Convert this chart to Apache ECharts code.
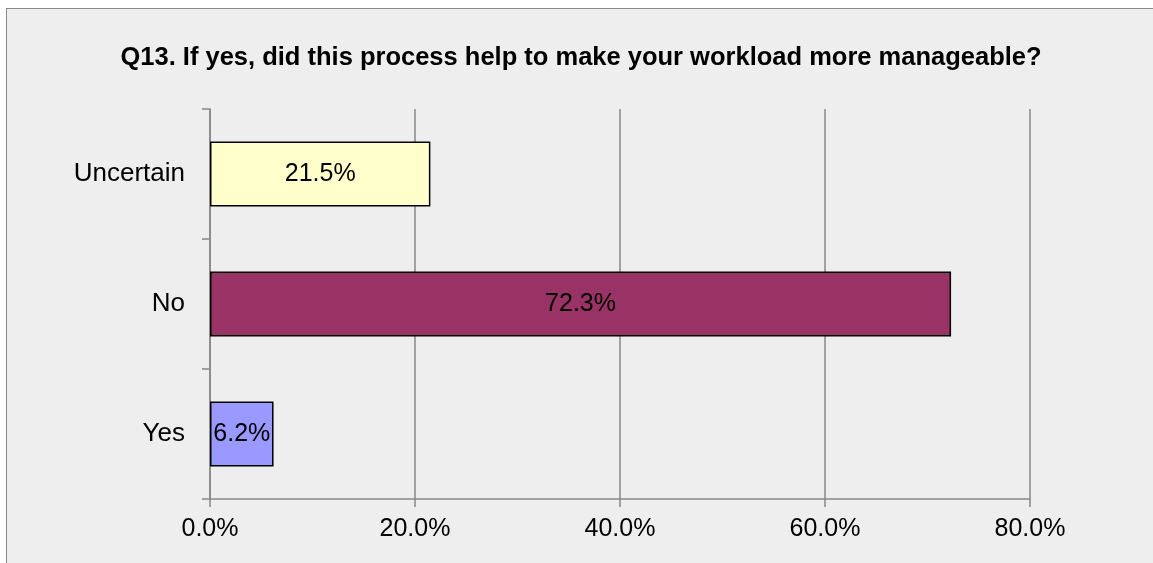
<!DOCTYPE html>
<html>
<head>
<meta charset="utf-8">
<script src="https://cdn.jsdelivr.net/npm/echarts@6/dist/echarts.min.js"></script>
<style>
html,body{margin:0;padding:0;background:#fff;}
#frame{position:absolute;left:6px;top:8px;width:1160px;height:570px;background:#eeeeee;border-left:1px solid #888;border-top:1px solid #888;}
#chart{position:absolute;left:0;top:0;width:1153px;height:563px;}
</style>
</head>
<body>
<div id="frame"></div>
<div id="chart"></div>
<script>
var categories = ['Yes', 'No', 'Uncertain'];
var values = [6.2, 72.3, 21.5];
var barColors = ['#9999FF', '#993366', '#FFFFCC'];
var xTicks = [0, 20, 40, 60, 80];
var titleText = 'Q13. If yes, did this process help to make your workload more manageable?';

var chart = echarts.init(document.getElementById('chart'));
chart.setOption({
  backgroundColor: 'transparent',
  animation: false,
  title: {
    text: titleText,
    left: 576, textAlign: 'center', top: 40,
    textStyle: {fontFamily: 'Liberation Sans', fontWeight: 'bold', fontSize: 25.5, color: '#000'}
  },
  grid: {left: 210, right: 123, top: 109, bottom: 64, containLabel: false},
  xAxis: {
    type: 'value', min: 0, max: 80, interval: 20,
    axisLine: {show: true, lineStyle: {color: '#888', width: 1.5}},
    axisTick: {show: true, length: 8, lineStyle: {color: '#888', width: 1.5}},
    splitLine: {show: true, lineStyle: {color: '#888', width: 1.5}},
    axisLabel: {
      margin: 18, fontFamily: 'Liberation Sans', fontSize: 25, color: '#000',
      formatter: function (v) { return xTicks.indexOf(v) >= 0 ? v.toFixed(1) + '%' : ''; }
    }
  },
  yAxis: {
    type: 'category', data: categories,
    axisLine: {show: true, lineStyle: {color: '#888', width: 1.5}},
    axisTick: {show: true, length: 8, lineStyle: {color: '#888', width: 1.5}},
    axisLabel: {margin: 25, fontFamily: 'Liberation Sans', fontSize: 26, color: '#000'}
  },
  series: [{
    type: 'bar',
    barWidth: '50%',
    data: values.map(function (v, i) {
      return {value: v, itemStyle: {color: barColors[i]}};
    }),
    itemStyle: {borderColor: '#000', borderWidth: 1.5},
    label: {
      show: true, position: 'inside', fontFamily: 'Liberation Sans', fontSize: 25, color: '#000',
      formatter: function (p) { return p.value.toFixed(1) + '%'; }
    }
  }]
});
</script>
</body>
</html>
